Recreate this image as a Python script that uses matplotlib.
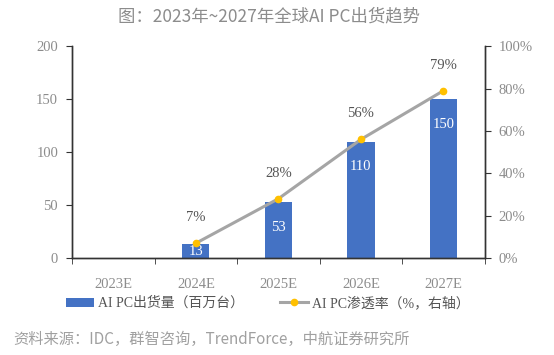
import matplotlib
matplotlib.use('Agg')

import matplotlib.pyplot as plt
import numpy as np
from matplotlib.lines import Line2D
from matplotlib.patches import Patch

# 数据
anos = ['2023E', '2024E', '2025E', '2026E', '2027E']
embarques = [np.nan, 13, 53, 110, 150]       # 百万台
penetracao = [np.nan, 7, 28, 56, 79]         # %

COR_BARRA = '#4472C4'
COR_LINHA = '#A5A5A5'
COR_PONTO = '#FFC000'
COR_TEXTO = '#8C8C8C'

SERIF = ['Liberation Serif', 'Noto Sans CJK SC']
SANS = ['Noto Sans CJK SC', 'DejaVu Sans']

plt.rcParams['font.family'] = SERIF

fig = plt.figure(figsize=(5.54, 3.55), dpi=100)
ax = fig.add_axes([0.130, 0.273, 0.745, 0.597])
ax2 = ax.twinx()

x = np.arange(len(anos))
bars = ax.bar(x, embarques, 0.33, color=COR_BARRA, zorder=2)
for xi, v in zip(x, embarques):
    if np.isnan(v):
        continue
    # rótulo dentro da barra (barra curta: no meio)
    y_txt = v - 24 if v > 40 else v / 2
    ax.text(xi, y_txt, f'{int(v)}', ha='center', va='center', color='white', fontsize=10.5)

ax2.plot(x, penetracao, color=COR_LINHA, linewidth=2.2, marker='o', markersize=4.5,
         markerfacecolor=COR_PONTO, markeredgecolor=COR_PONTO, zorder=3)
for xi, v in zip(x, penetracao):
    if np.isnan(v):
        continue
    ax2.text(xi, v + 12, f'{int(v)}%', ha='center', va='center', color='#555555', fontsize=10.5)

ax.set_xlim(-0.5, len(anos) - 0.5)
ax.set_ylim(0, 200)
ax.set_yticks([0, 50, 100, 150, 200])
ax2.set_ylim(0, 100)
ax2.set_yticks([0, 20, 40, 60, 80, 100])
ax2.set_yticklabels([f'{v}%' for v in range(0, 101, 20)])

ax.set_xticks(x)
ax.set_xticklabels(anos)
ax.set_xticks(np.arange(-0.5, len(anos), 1.0), minor=True)
ax.tick_params(axis='x', which='major', length=0, pad=14, labelsize=10.5, labelcolor=COR_TEXTO)
ax.tick_params(axis='x', which='minor', length=4, direction='out', color='#333333')
ax.tick_params(axis='y', length=4, direction='out', pad=6, labelsize=10.5, labelcolor=COR_TEXTO, color='#333333')
ax2.tick_params(axis='y', length=4, direction='out', pad=6, labelsize=10.5, labelcolor=COR_TEXTO, color='#333333')

for a in (ax, ax2):
    a.spines['top'].set_visible(False)
    for s in ('left', 'right', 'bottom'):
        a.spines[s].set_color('#333333')
        a.spines[s].set_linewidth(1.0)

handles = [Patch(facecolor=COR_BARRA, edgecolor='none'),
           Line2D([0], [0], color=COR_LINHA, linewidth=2.2, marker='o', markersize=4.5,
                  markerfacecolor=COR_PONTO, markeredgecolor=COR_PONTO)]
labels = ['AI PC出货量（百万台）', 'AI PC渗透率（%，右轴）']
fig.legend(handles, labels, loc='center', bbox_to_anchor=(0.484, 0.146), ncol=2, frameon=False,
           labelcolor='#555555', handlelength=2.0, handleheight=0.6, handletextpad=0.3,
           columnspacing=2.6, prop={'family': SERIF, 'size': 10})

fig.text(0.485, 0.955, '图：2023年~2027年全球AI PC出货趋势', ha='center', va='center',
         fontsize=12.5, color=COR_TEXTO, family=SANS)
fig.text(0.024, 0.045, '资料来源：IDC，群智咨询，TrendForce，中航证券研究所', ha='left', va='center',
         fontsize=11, color='#A0A0A0', family=SANS)

fig.savefig('out.png', dpi=100)
